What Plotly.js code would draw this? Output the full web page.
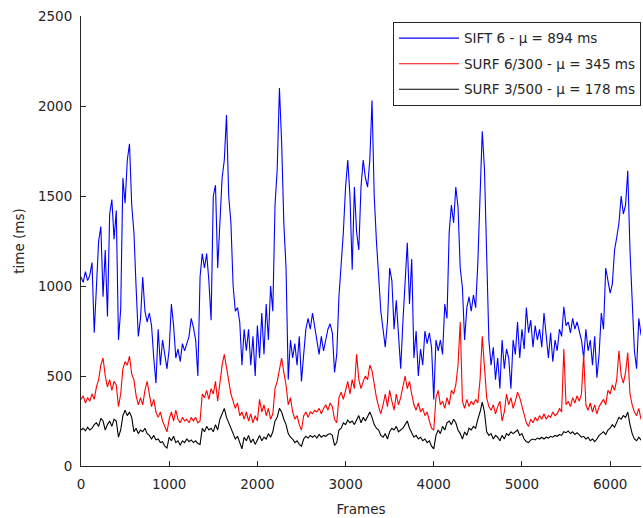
<!DOCTYPE html>
<html>
<head>
<meta charset="utf-8">
<script src="https://cdn.plot.ly/plotly-3.0.1.min.js"></script>
<style>html,body{margin:0;padding:0;background:#fff;}#chart{width:643px;height:518px;}</style>
</head>
<body>
<div id="chart"></div>
<script>
// Frame sampling step (frames between consecutive readings)
const frameStep = 25;

const seriesNames = [
  "SIFT 6 - \u03bc = 894 ms",
  "SURF 6/300 - \u03bc = 345 ms",
  "SURF 3/500 - \u03bc = 178 ms"
];

const siftTimes = [
  1050,1020,1080,1030,1060,1130,740,1000,1250,1330,
  940,1200,830,1400,1480,1260,1420,700,870,1600,
  1460,1700,1790,1450,1300,990,720,820,1050,860,
  800,850,780,600,460,760,560,700,620,540,
  650,900,780,600,650,580,680,640,680,720,
  820,770,700,500,1050,1180,1100,1180,1030,810,
  1500,1560,1100,1400,1600,1700,1950,1500,1350,1000,
  860,880,800,560,760,640,760,560,720,500,
  780,600,850,620,900,700,1000,860,1450,1650,
  2100,1800,1350,1100,480,700,600,680,560,720,
  470,620,760,820,760,850,780,700,620,720,
  640,700,760,790,740,520,620,940,1100,1300,
  1550,1700,1500,1090,1550,1300,1200,1550,1700,1600,
  1550,1700,2030,1500,1250,1030,860,760,660,800,
  1100,1030,760,920,700,540,800,1000,1240,900,
  1150,600,750,500,650,560,750,680,740,660,
  370,700,640,700,620,900,820,1300,1450,1350,
  1550,1440,1100,990,700,880,940,860,950,880,
  1130,1500,1860,1650,1100,700,560,660,480,600,
  430,700,540,650,600,430,700,620,800,600,
  760,650,880,740,810,660,780,700,760,660,
  850,720,600,740,580,700,640,760,720,885,
  780,800,740,820,760,800,740,700,600,760,
  640,700,560,720,490,620,850,760,1100,1030,
  960,1010,1200,1270,1350,1500,1400,1450,1640,1200,
  880,640,540,820,730,700
];

const surf6Times = [
  370,390,350,380,360,400,370,440,480,560,
  600,500,440,480,420,470,450,330,400,540,
  580,560,610,510,480,390,340,380,340,420,
  470,400,330,370,300,270,300,250,220,190,
  260,300,250,310,260,240,270,250,260,240,
  270,250,270,240,250,400,380,420,370,430,
  400,470,360,480,560,620,540,460,400,360,
  320,350,280,300,260,300,250,290,240,280,
  250,370,300,340,280,320,260,290,430,470,
  540,600,520,450,340,380,300,260,280,230,
  200,280,300,270,300,290,310,300,320,290,
  320,340,310,350,330,260,240,380,410,370,
  420,470,400,480,430,620,480,430,470,500,
  480,560,530,440,380,330,290,340,400,330,
  420,360,310,400,340,380,450,500,430,470,
  400,340,310,350,300,320,280,300,250,210,
  200,380,420,340,360,320,380,340,420,400,
  450,560,800,360,320,370,330,360,340,370,
  350,480,720,520,380,330,310,340,290,330,
  360,250,300,400,340,380,320,360,410,380,
  330,280,240,220,260,240,270,250,280,260,
  290,260,280,270,300,280,290,320,300,650,
  340,360,330,380,350,390,360,400,620,340,
  310,350,300,340,290,330,350,370,340,420,
  400,450,420,480,640,500,460,520,630,400,
  340,300,280,320,260,280
];

const surf3Times = [
  200,210,195,215,200,210,230,240,220,265,
  250,200,230,250,220,260,250,160,200,280,
  310,280,300,270,190,210,180,200,190,210,
  180,170,150,170,145,150,130,135,110,100,
  160,140,165,130,140,115,140,130,150,135,
  145,130,140,125,120,210,190,220,200,210,
  190,230,200,260,290,320,270,240,200,180,
  150,165,130,95,160,140,170,130,150,120,
  145,170,140,160,150,180,160,190,250,270,
  320,300,260,230,180,160,150,130,140,120,
  110,150,165,155,170,160,170,155,175,160,
  170,165,175,180,170,115,130,200,210,240,
  230,255,240,250,230,260,280,240,270,250,
  280,300,270,230,210,200,170,160,180,150,
  190,210,200,220,190,200,210,230,250,210,
  180,160,170,150,160,140,150,130,140,110,
  95,170,200,180,220,200,240,250,230,260,
  240,200,180,150,190,170,210,200,220,210,
  260,300,355,300,190,170,180,150,170,160,
  140,170,150,180,170,190,180,190,200,170,
  180,150,135,130,145,150,145,155,150,160,
  150,160,155,165,160,170,165,175,170,190,
  185,195,180,190,175,185,170,160,165,150,
  160,140,150,135,150,170,180,190,175,200,
  210,230,215,240,270,260,280,270,300,230,
  180,150,140,160,145,155
];

const seriesColors = ["#0000ff", "#ff0000", "#000000"];
const allSeries = [siftTimes, surf6Times, surf3Times];

const traces = allSeries.map((vals, k) => ({
  type: "scatter",
  mode: "lines",
  name: seriesNames[k],
  legendgroup: "g" + k,
  x: vals.map((_, i) => i * frameStep),
  y: vals,
  line: { color: seriesColors[k], width: 1.1 }
}));

const axisColor = "#262626";
const fontFamily = "DejaVu Sans, Liberation Sans, Arial, sans-serif";
const fs = 13.5;

const layout = {
  width: 643,
  height: 518,
  margin: { l: 81, r: 2, t: 16, b: 52 },
  paper_bgcolor: "#ffffff",
  plot_bgcolor: "#ffffff",
  font: { family: fontFamily, size: fs, color: axisColor },
  showlegend: true,
  xaxis: {
    range: [0, 6350],
    tickvals: [0, 1000, 2000, 3000, 4000, 5000, 6000],
    ticks: "inside",
    ticklen: 5,
    tickcolor: axisColor,
    showline: true,
    linecolor: axisColor,
    linewidth: 1,
    showgrid: false,
    zeroline: false,
    tickfont: { family: fontFamily, size: fs, color: axisColor },
    ticklabelstandoff: 6,
    title: { text: "Frames", font: { family: fontFamily, size: fs, color: axisColor }, standoff: 13 }
  },
  yaxis: {
    range: [0, 2500],
    tickvals: [0, 500, 1000, 1500, 2000, 2500],
    ticks: "inside",
    ticklen: 5,
    tickcolor: axisColor,
    showline: true,
    linecolor: axisColor,
    linewidth: 1,
    showgrid: false,
    zeroline: false,
    tickfont: { family: fontFamily, size: fs, color: axisColor },
    ticklabelstandoff: 5,
    title: { text: "time (ms)", font: { family: fontFamily, size: fs, color: axisColor }, standoff: 10 }
  },
  legend: {
    x: 1,
    xanchor: "right",
    y: 0.987,
    yanchor: "top",
    bgcolor: "#ffffff",
    bordercolor: axisColor,
    borderwidth: 1,
    font: { family: fontFamily, size: fs, color: axisColor },
    itemwidth: 60,
    tracegroupgap: 5
  }
};

Plotly.newPlot("chart", traces, layout, { displayModeBar: false, staticPlot: true });
</script>
</body>
</html>
